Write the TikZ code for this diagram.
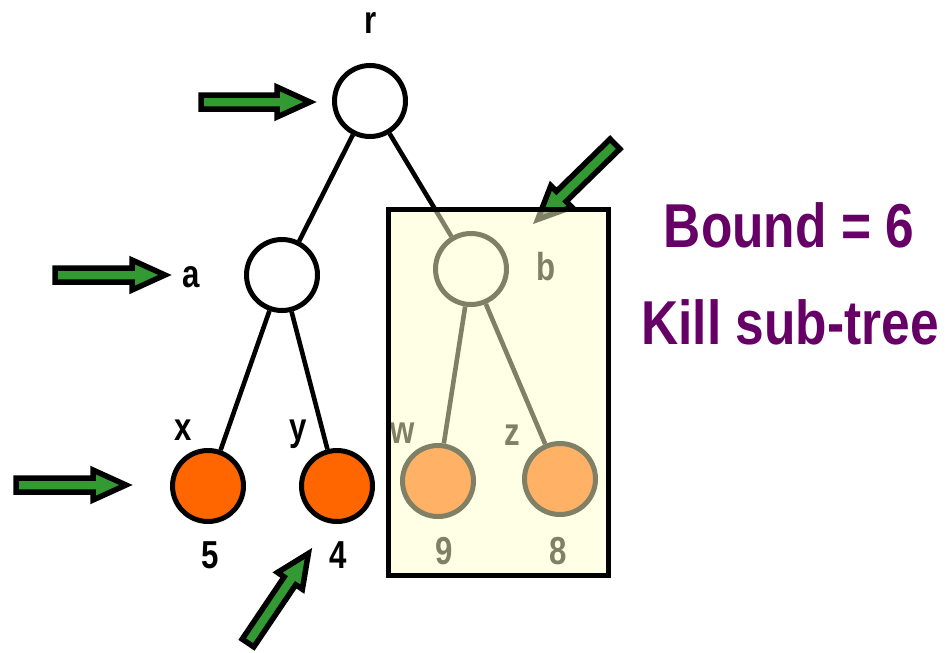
\documentclass[tikz,border=0pt]{standalone}
\usepackage{fontspec}
\newfontfamily\condsans[FakeStretch=0.8]{Liberation Sans}
\newfontfamily\headsans[FakeStretch=0.83]{Liberation Sans}
\begin{document}
\begin{tikzpicture}[x=1pt,y=-1pt,
  treenode/.style={circle, draw=black, line width=5pt, inner sep=0pt, minimum size=71pt},
  innernode/.style={treenode, fill=white},
  leafnode/.style={treenode, fill=leaforange},
  treeedge/.style={line width=4.6pt, draw=black},
  lbl/.style={anchor=base, inner sep=0pt, font=\condsans\bfseries\fontsize{39}{39}\selectfont},
  headline/.style={anchor=base, inner sep=0pt, text=boundpurple, font=\headsans\bfseries\fontsize{62}{62}\selectfont},
  fatarrow/.style={draw=black, fill=arrowgreen, line width=5.5pt, line join=miter},
  prunebox/.style={draw=black, line width=5pt, fill=boxyellow, fill opacity=0.5}]

\definecolor{leaforange}{RGB}{255,102,0}
\definecolor{arrowgreen}{RGB}{51,153,51}
\definecolor{boundpurple}{RGB}{102,0,102}
\definecolor{boxyellow}{RGB}{255,255,205}

\useasboundingbox (0,0) rectangle (948,653);

% block arrow: tail point, angle, length
\newcommand{\blockarrow}[3]{%
  \draw[fatarrow, shift={(#1)}, rotate=#2]
    (0,-7) -- ({#3-33},-7) -- ({#3-33},-15) -- (#3,0) -- ({#3-33},15)
    -- ({#3-33},7) -- (0,7) -- cycle;}

% tree nodes
\node[innernode] (r) at (370,101) {};
\node[innernode] (a) at (282,275) {};
\node[innernode] (b) at (471,269) {};
\node[leafnode] (x) at (208,486) {};
\node[leafnode] (y) at (337,486) {};
\node[leafnode] (w) at (438,481) {};
\node[leafnode] (z) at (560,479) {};

% edges
\draw[treeedge] (r) -- (a);
\draw[treeedge] (r) -- (b);
\draw[treeedge] (a) -- (x);
\draw[treeedge] (a) -- (y);
\draw[treeedge] (b) -- (w);
\draw[treeedge] (b) -- (z);

% node names
\node[lbl] (lr) at (371,33) {r};
\node[lbl] (la) at (191,287) {a};
\node[lbl] (lb) at (546,280) {b};
\node[lbl] (lx) at (183,440) {x};
\node[lbl] (ly) at (298,440) {y};
\node[lbl] (lw) at (403,443) {w};
\node[lbl] (lz) at (512,445) {z};

% leaf values
\node[lbl] (v5) at (210,568) {5};
\node[lbl] (v4) at (338,568) {4};
\node[lbl] (v9) at (444,564) {9};
\node[lbl] (v8) at (558,564) {8};

% search-order arrows
\coordinate (t1) at (201,102);
\coordinate (t2) at (55,275);
\coordinate (t3) at (16,485);
\coordinate (t4) at (248,643);
\coordinate (t5) at (615,144);
\blockarrow{t1}{0}{109}
\blockarrow{t2}{0}{110}
\blockarrow{t3}{0}{110}
\blockarrow{t4}{56}{108}
\blockarrow{t5}{-135.7}{108}

% pruned sub-tree overlay
\draw[prunebox] (388,209) rectangle (608,575);

% caption
\node[headline] (bound) at (789,247) {Bound = 6};
\node[headline] (kill) at (790,344) {Kill sub-tree};
\end{tikzpicture}
\end{document}
